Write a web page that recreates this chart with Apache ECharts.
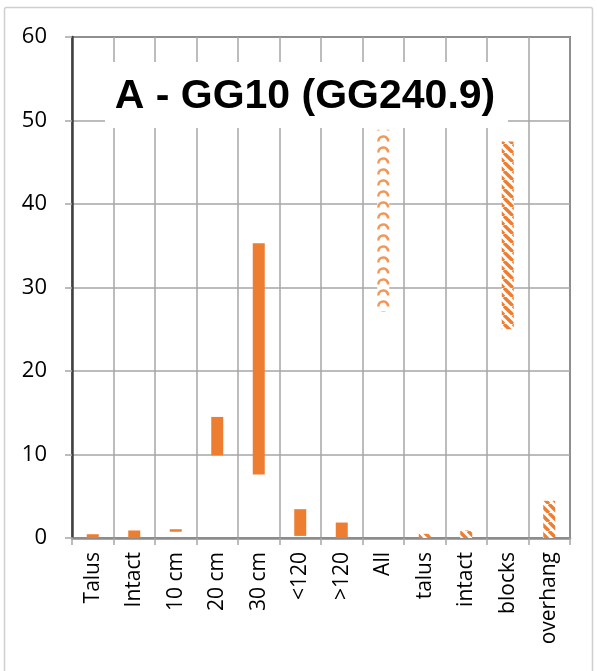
<!DOCTYPE html>
<html>
<head>
<meta charset="utf-8">
<script src="https://cdn.jsdelivr.net/npm/echarts@6/dist/echarts.min.js"></script>
<style>
  html, body { margin: 0; padding: 0; background: #fff; }
  #chart { width: 597px; height: 671px; }
</style>
</head>
<body>
<div id="chart"></div>
<script>
(function() {
    'use strict';

    // categories on the x axis
    var categories = ['Talus', 'Intact', '10 cm', '20 cm', '30 cm', '<120', '>120',
                      'All', 'talus', 'intact', 'blocks', 'overhang'];
    // bottom and top of each floating bar
    var lows  = [0, 0, 0.75, 9.9, 7.6, 0.25, 0, 27.1, 0, 0, 25.0, 0];
    var highs = [0.45, 0.9, 1.05, 14.5, 35.3, 3.45, 1.85, 48.9, 0.5, 0.9, 47.5, 4.45];
    // fill type for every bar
    var fillKinds = ['solid', 'solid', 'solid', 'solid', 'solid', 'solid', 'solid',
                     'scallop', 'stripe', 'stripe', 'stripe', 'stripe'];
    var yTicks = [0, 10, 20, 30, 40, 50, 60];

    var ORANGE = '#ED7D31';

    // diagonal stripes "\"
    function stripePattern() {
        var n = 9;
        var c = document.createElement('canvas');
        c.width = n; c.height = n;
        var ctx = c.getContext('2d');
        ctx.fillStyle = '#fff';
        ctx.fillRect(0, 0, n, n);
        ctx.strokeStyle = ORANGE;
        ctx.lineWidth = 3.4;
        ctx.beginPath();
        [-n, 0, n].forEach(function(o) {
            ctx.moveTo(o, 0);
            ctx.lineTo(o + n, n);
        });
        ctx.stroke();
        return c;
    }

    // scallop arcs, shifted so one arc sits in the middle of the bar
    function scallopPattern() {
        var c = document.createElement('canvas');
        c.width = 12; c.height = 11;
        var ctx = c.getContext('2d');
        ctx.fillStyle = '#fff';
        ctx.fillRect(0, 0, 12, 11);
        ctx.strokeStyle = 'rgba(240,140,70,0.9)';
        ctx.lineWidth = 2.6;
        [-0.75, 11.25].forEach(function(cx) {
            ctx.beginPath();
            ctx.arc(cx, 9.5, 5, Math.PI, 2 * Math.PI);
            ctx.stroke();
        });
        return c;
    }

    var fills = {
        solid: ORANGE,
        stripe: { image: stripePattern(), repeat: 'repeat' },
        scallop: { image: scallopPattern(), repeat: 'repeat' }
    };

    var rangeData = highs.map(function(h, i) {
        return {
            value: +(h - lows[i]).toFixed(3),
            itemStyle: { color: fills[fillKinds[i]] }
        };
    });

    var font = '"Open Sans", "DejaVu Sans", sans-serif';
    var titleFont = '"Liberation Sans", "DejaVu Sans", sans-serif';

    var chart = echarts.init(document.getElementById('chart'), null, { renderer: 'canvas' });

    chart.setOption({
        animation: false,
        backgroundColor: '#fff',
        grid: {
            left: 72, right: 27, top: 37, bottom: 133,
            show: true, borderColor: '#111', borderWidth: 1.5,
            backgroundColor: 'transparent'
        },
        xAxis: {
            type: 'category',
            data: categories,
            axisLine: { lineStyle: { color: '#8c8c8c', width: 2.5 } },
            axisTick: { show: true, interval: 0, length: 7, lineStyle: { color: '#a6a6a6', width: 1.5 } },
            splitLine: { show: true, interval: 0, lineStyle: { color: '#a6a6a6', width: 1.5 } },
            axisLabel: {
                interval: 0, rotate: 90, margin: 14,
                fontFamily: font, fontSize: 21, color: '#000'
            }
        },
        yAxis: {
            type: 'value',
            min: yTicks[0], max: yTicks[yTicks.length - 1], interval: 10,
            axisLine: { show: true, lineStyle: { color: '#404040', width: 2.5 } },
            axisTick: { show: true, length: 7, lineStyle: { color: '#a6a6a6', width: 1.5 } },
            splitLine: { show: true, lineStyle: { color: '#a6a6a6', width: 1.5 } },
            axisLabel: {
                margin: 25, fontFamily: font, fontSize: 22, color: '#000'
            }
        },
        series: [
            {
                type: 'bar', stack: 'range', barWidth: 12,
                data: lows,
                itemStyle: { color: 'transparent' },
                silent: true
            },
            {
                type: 'bar', stack: 'range', barWidth: 12,
                data: rangeData
            }
        ],
        graphic: [
            {
                type: 'rect', z: 0, silent: true,
                shape: { x: 4.5, y: 7.5, width: 588, height: 680, r: 2 },
                style: { fill: 'none', stroke: '#cfcfcf', lineWidth: 1.5 }
            },
            {
                type: 'rect', z: 100, silent: true,
                shape: { x: 105, y: 62, width: 403, height: 66 },
                style: { fill: '#fff' }
            },
            {
                type: 'text', z: 101, silent: true,
                x: 305, y: 97,
                style: {
                    text: 'A - GG10 (GG240.9)',
                    fontFamily: titleFont, fontWeight: 'bold', fontSize: 41,
                    fill: '#000', align: 'center', verticalAlign: 'middle'
                }
            }
        ]
    });
})();
</script>
</body>
</html>
